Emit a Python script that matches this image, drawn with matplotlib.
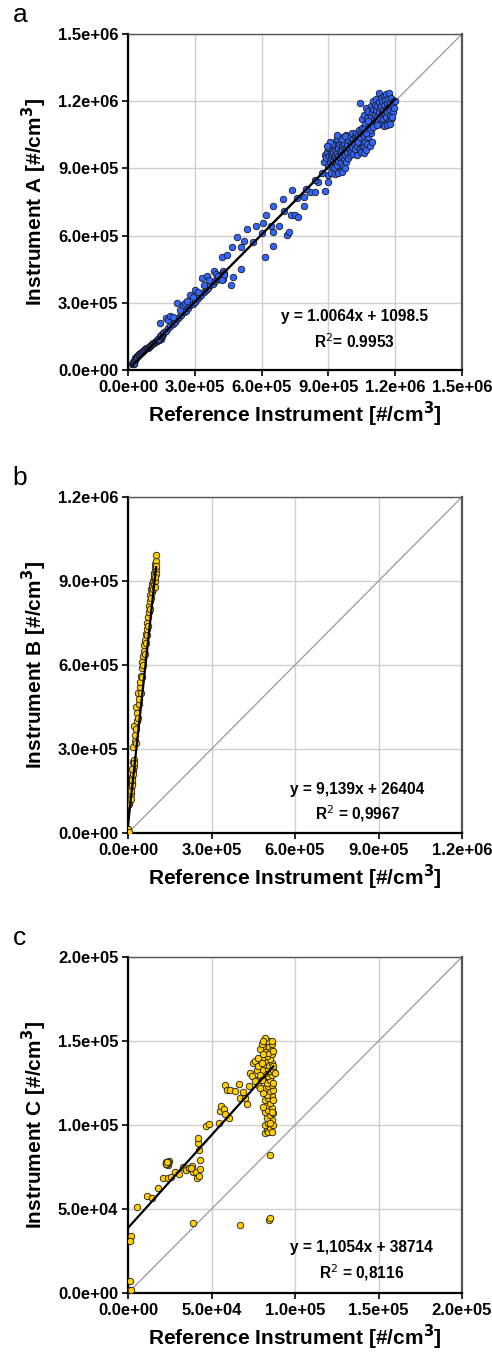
import matplotlib
matplotlib.use("Agg")
import matplotlib.pyplot as plt
from matplotlib.ticker import FuncFormatter
import numpy as np

plt.rcParams['font.family'] = ['Liberation Sans', 'DejaVu Sans']

# ---------------- Panel a data (units of 1e3 #/cm3) ----------------
a_pts = [
    (20,25),(22,30),(24,35),(25,28),(27,40),(28,33),(30,45),(31,52),(33,48),(35,55),(38,58),(39,62),
    (42,60),(45,66),(48,68),(50,70),(54,74),(58,78),(62,80),(66,84),(69,86),(73,90),(78,93),(82,96),
    (86,98),(91,100),(95,104),(100,108),(105,112),(110,116),(114,119),(118,122),(122,126),(126,129),
    (129,131),(132,133),(135,134),(138,135),(140,137),(142,138),(144,137),(146,140),(148,142),(150,145),
    (152,150),(140,142),(135,140),(145,150),(150,155),(155,160),(158,165),(160,170),
    (170,175),(180,188),(190,195),(200,205),(210,215),(220,228),(230,236),(240,245),(250,258),(260,265),
    (270,276),(280,288),(290,296),(300,305),(310,318),(320,325),(330,336),(340,347),(350,356),(360,366),
    (370,378),(380,386),(390,398),(400,405),(410,415),
    (144,208),(169,231),(180,225),(190,240),(200,235),(222,298),(235,270),(245,290),(255,300),(265,310),
    (278,335),(290,325),(301,357),(315,350),(331,412),(340,380),(353,421),(365,400),(388,443),(395,430),
    (421,503),(443,513),(469,551),(491,592),(506,551),(521,577),(536,631),(575,643),(605,655),(618,692),
    (650,732),(695,765),(738,804),
    (410,420),(415,425),(418,410),(420,430),(422,415),(425,440),(428,420),(430,435),(412,405),(405,418),
    (425,405),(432,425),(420,400),
    (463,379),(473,414),(507,449),(615,503),(653,554),(653,618),(680,643),(716,601),(725,618),(731,690),
    (750,692),(765,685),(790,732),(790,774),(817,796),(838,796),(855,841),(885,801),(900,841),
    (560,570),(600,610),(640,645),(700,710),(760,770),(800,810),(840,850),(870,880),
    (880,930),(885,960),(890,945),(895,975),(898,910),(900,990),(902,955),(905,930),(908,1000),(910,965),
    (912,940),(915,985),(915,915),(918,960),(920,1005),(920,935),(922,975),(925,950),(925,900),(928,1020),
    (930,985),(930,960),(932,930),(935,1000),(935,945),(938,970),(940,915),(940,1030),(942,990),(945,955),
    (945,935),(948,1010),(950,975),(950,890),(952,945),(955,1020),(955,965),(958,925),(960,1000),(960,980),
    (962,950),(965,1040),(965,910),(968,970),(970,995),(970,940),(972,1015),(975,960),(978,985),(980,930),
    (980,1050),(983,1005),(985,970),(988,945),(990,1025),(992,990),(995,960),(998,1040),(1000,1010),
    (1002,975),(1005,1060),(1008,995),(1010,1030),(1012,965),(1015,1015),(1018,1045),(1020,985),
    (1022,1060),(1025,1030),(1028,1000),(1030,960),(1032,1050),(1035,1020),(1038,1070),(1040,1040),
    (1042,990),(1045,1060),(1048,975),(1050,1000),(1052,1080),(1055,1010),(1058,970),(1060,1045),
    (1062,1000),(1065,1020),(1068,1065),(1070,980),(1072,1050),(1075,1010),(1078,1075),(1080,1040),
    (1085,1000),(1090,1060),(1095,1020),(900,870),(910,880),(930,875),(945,880),(960,885),(975,900),
    (915,1010),(905,1020),(895,1000),(940,1050),(960,1030),(975,1045),
    (1040,1190),(1050,1120),(1060,1140),(1065,1100),(1070,1170),(1075,1125),(1080,1155),(1085,1090),
    (1088,1070),(1090,1180),(1092,1130),(1095,1150),(1098,1105),(1100,1200),(1102,1165),(1105,1120),
    (1108,1185),(1110,1140),(1112,1095),(1115,1210),(1115,1160),(1118,1130),(1120,1180),(1122,1110),
    (1125,1235),(1125,1150),(1128,1195),(1130,1170),(1132,1125),(1135,1215),(1135,1100),(1138,1180),
    (1140,1145),(1142,1200),(1145,1160),(1145,1120),(1148,1225),(1150,1185),(1152,1140),(1155,1205),
    (1155,1100),(1158,1165),(1160,1230),(1160,1130),(1162,1190),(1165,1150),(1168,1210),(1170,1175),
    (1170,1110),(1172,1235),(1175,1190),(1175,1140),(1178,1160),(1180,1215),(1182,1120),(1185,1180),
    (1188,1200),(1190,1150),(1192,1190),(1195,1170),(1198,1200),(1100,1085),(1080,1110),(1068,1060),
    (1058,1075),(1120,1095),(1150,1090),(1165,1095),(1185,1130),(1178,1100),
]
a_x = [p[0] * 1e3 for p in a_pts]
a_y = [p[1] * 1e3 for p in a_pts]
a_slope, a_icpt = 1.0064, 1098.5

# ---------------- Panel b data ----------------
b_pts = [
    (0,2),(1,15),(2,5),(0,99),(3,105),(5,112),(6,125),(8,118),(9,140),(10,123),(11,160),(12,150),
    (13,180),(14,170),(15,200),(16,190),(17,220),(18,230),(19,253),(20,240),(21,260),(22,250),(18,210),
    (16,230),(19,307),(23,381),(24,330),(26,350),(28,320),(29,450),(30,370),(32,400),(34,430),(35,410),
    (37,501),(38,460),(40,480),(42,520),(44,540),(46,500),(47,560),(49,557),(50,590),(52,610),(54,600),
    (55,631),(57,650),(59,670),(60,640),(62,690),(64,710),(65,680),(67,706),(68,730),(70,750),(72,770),
    (73,740),(75,790),(76,810),(78,800),(79,830),(80,850),(82,840),(83,870),(85,860),(86,890),(88,880),
    (89,900),(90,870),(92,910),(93,890),(94,930),(95,920),(96,945),(97,900),(98,960),(99,940),(100,970),
    (101,992),(102,955),(100,925),(98,880),(96,915),
]
b_x = [p[0] * 1e3 for p in b_pts]
b_y = [p[1] * 1e3 for p in b_pts]
b_slope, b_icpt = 9.139, 26404

# ---------------- Panel c data ----------------
c_pts = [
    (1.2,7.1),(1.2,2.0),(1.6,1.5),(1.6,34.2),(1.2,31.2),
    (5.2,51.0),(11.2,57.9),(14.6,56.3),(18.2,62.5),(20.8,68.4),(24.2,68.2),(25.8,68.8),(28.2,72.3),
    (30.8,70.8),(33.2,75.1),(34.8,73.1),(36.6,74.3),(38.2,75.7),(39.2,72.1),(40.8,72.3),(41.6,68.4),
    (42.6,69.8),(43.2,73.7),(43.2,79.1),(42.8,85.0),(42.2,89.5),(42.2,92.1),(38.8,41.7),(37.5,74.5),
    (23.0,77.5),(22.6,76.5),(23.4,76.8),(23.8,77.6),(22.8,78.2),(24.2,76.2),(24.6,78.6),
    (23.2,77.0),(23.6,77.3),(22.9,76.9),(24.0,77.9),(23.3,78.0),
    (46.6,99.4),(48.6,100.4),(54.2,101.0),(55.2,108.3),(55.6,111.3),(57.6,109.7),(58.2,124.1),
    (59.2,120.6),(61.2,120.6),(63.8,120.2),(60.2,104.0),(66.6,124.5),(66.8,116.2),(68.8,119.8),
    (71.2,112.6),(72.2,123.5),(69.8,115.8),(57.8,106.3),
    (66.8,40.7),(84.2,43.7),(85.2,44.5),(85.2,82.2),
    (82,95),(83,97),(84,96),(85,98),(82,100),(84,101),(86,103),(83,104),(85,106),(87,107),(82,108),
    (84,109),(86,110),(83,112),(85,113),(82,115),(84,116),(86,117),(83,118),(85,120),(87,121),(82,122),
    (84,123),(86,124),(83,125),(85,127),(81,128),(84,129),(86,130),(82,131),(85,132),(87,133),(83,134),
    (84,136),(86,137),(82,138),(85,139),(83,141),(86,142),(84,143),(82,145),(85,146),(83,147),(86,148),
    (84,150),(82,152),(87,135),(88,131),(87,125),(87,115),(86,108),(87,100),(85,101),(86,96),(81,119),
    (81,111),(81,136),(80,140),(80,133),(81,147),(86,150),(87,144),
    (73,131),(74,129),(75,137),(76,138),(77,133),(78,140),(79,145),(80,148),(77,127),(78,124),(79,130),
    (76,126),(78,135),(79,122),(80,127),(80,137),(81,142),(81,150),
]
c_x = [p[0] * 1e3 for p in c_pts]
c_y = [p[1] * 1e3 for p in c_pts]
c_slope, c_icpt = 1.1054, 38714

panels = [
    dict(letter="a", x=a_x, y=a_y, slope=a_slope, icpt=a_icpt, fit=(20e3, 1.2e6), lim=1.5e6,
         ticks=[0, 3e5, 6e5, 9e5, 1.2e6, 1.5e6], color="#3366FF", ylabel="Instrument A",
         eq="y = 1.0064x + 1098.5", r2="R$^{2}$= 0.9953", top=34, eqx=0.677, eqy=(0.158, 0.083)),
    dict(letter="b", x=b_x, y=b_y, slope=b_slope, icpt=b_icpt, fit=(0, 101e3), lim=1.2e6,
         ticks=[0, 3e5, 6e5, 9e5, 1.2e6], color="#FFCC00", ylabel="Instrument B",
         eq="y = 9,139x + 26404", r2="R$^{2}$ = 0,9967", top=497, eqx=0.686, eqy=(0.128, 0.057)),
    dict(letter="c", x=c_x, y=c_y, slope=c_slope, icpt=c_icpt, fit=(0, 87e3), lim=2.0e5,
         ticks=[0, 5e4, 1e5, 1.5e5, 2e5], color="#FFCC00", ylabel="Instrument C",
         eq="y = 1,1054x + 38714", r2="R$^{2}$ = 0,8116", top=957, eqx=0.70, eqy=(0.134, 0.06)),
]

W, H = 492, 1355
fig = plt.figure(figsize=(W / 100, H / 100), dpi=100)

fmt = FuncFormatter(lambda v, p: "%.1e" % v)

for pnl in panels:
    left, top, w, h = 128, pnl["top"], 334, 336
    ax = fig.add_axes([left / W, (H - top - h) / H, w / W, h / H])
    lim = pnl["lim"]
    ax.set_xlim(0, lim)
    ax.set_ylim(0, lim)
    ax.set_xticks(pnl["ticks"])
    ax.set_yticks(pnl["ticks"])
    ax.xaxis.set_major_formatter(fmt)
    ax.yaxis.set_major_formatter(fmt)
    ax.grid(True, color="#d0d0d0", lw=1.0, zorder=0)
    ax.set_axisbelow(True)
    ax.plot([0, lim], [0, lim], color="#999999", lw=0.9, zorder=1)
    ax.scatter(pnl["x"], pnl["y"], s=22, c=pnl["color"], edgecolors="#1a1a1a",
               linewidths=0.6, zorder=3)
    fx = np.array(pnl["fit"])
    ax.plot(fx, pnl["slope"] * fx + pnl["icpt"], color="black", lw=1.6, zorder=4)
    for side in ["left", "bottom"]:
        ax.spines[side].set_color("black")
        ax.spines[side].set_linewidth(1.6)
    ax.spines["top"].set_color("#555555")
    ax.spines["top"].set_linewidth(1.0)
    ax.spines["right"].set_color("#555555")
    ax.spines["right"].set_linewidth(1.6)
    ax.tick_params(direction="out", length=4, width=1.2, pad=3, labelsize=12)
    for lab in ax.get_xticklabels() + ax.get_yticklabels():
        lab.set_fontweight("bold")
    ax.set_xlabel("Reference Instrument [#/cm$^{\\mathbf{3}}$]", fontsize=15, fontweight="bold", labelpad=4)
    ax.set_ylabel(pnl["ylabel"] + " [#/cm$^{\\mathbf{3}}$]", fontsize=15, fontweight="bold", labelpad=6)
    ax.text(pnl["eqx"], pnl["eqy"][0], pnl["eq"], transform=ax.transAxes, ha="center", va="center",
            fontsize=11.2, fontweight="bold")
    ax.text(pnl["eqx"], pnl["eqy"][1], pnl["r2"], transform=ax.transAxes, ha="center", va="center",
            fontsize=11.2, fontweight="bold")
    fig.text(20 / W, 1 - (top - 19) / H, pnl["letter"], fontsize=19, ha="center", va="center")

fig.savefig("out.png", dpi=100)
